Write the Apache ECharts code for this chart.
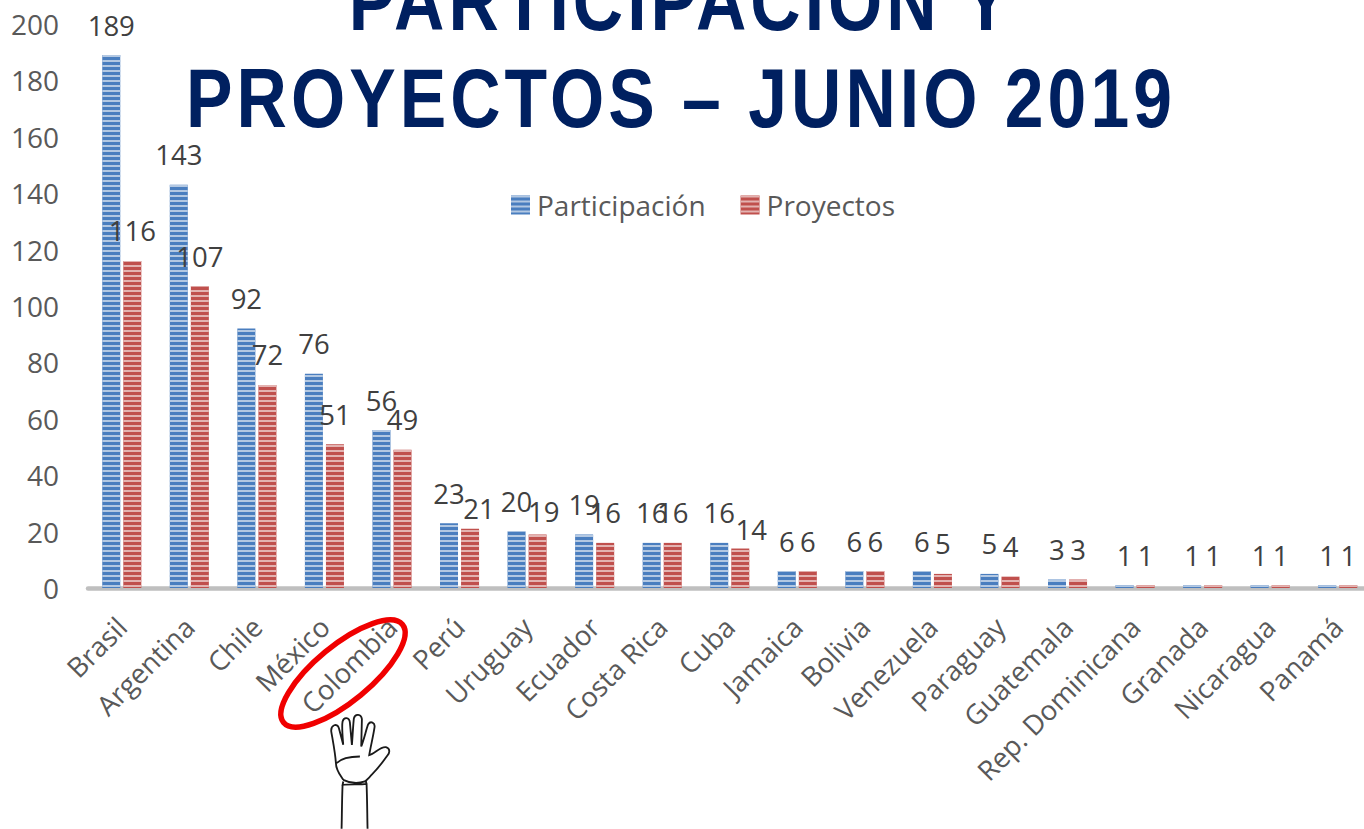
<!DOCTYPE html>
<html><head><meta charset="utf-8">
<style>html,body{margin:0;padding:0;background:#fff;overflow:hidden}#c{width:1364px;height:829px}
#c text[fill="#002060"],#c text[style*="rgb(0, 32, 96)"],#c text[style*="#002060"]{letter-spacing:4.8px}</style>
<script src="https://cdn.jsdelivr.net/npm/echarts@6/dist/echarts.min.js"></script></head>
<body><div id="c"></div><script>
const categories=["Brasil","Argentina","Chile","México","Colombia","Perú","Uruguay","Ecuador","Costa Rica","Cuba","Jamaica","Bolivia","Venezuela","Paraguay","Guatemala","Rep. Dominicana","Granada","Nicaragua","Panamá"];
const participacion=[189,143,92,76,56,23,20,19,16,16,6,6,6,5,3,1,1,1,1];
const proyectos=[116,107,72,51,49,21,19,16,16,14,6,6,5,4,3,1,1,1,1];
const titleText="PARTICIPACIÓN Y\nPROYECTOS – JUNIO 2019";
const proyectosLabelNudges={5:[9,10],6:[6,7],9:[11,11]};
const F='"Open Sans"';
const stripes=c=>({symbol:'rect',color:c,dashArrayX:[1,0],dashArrayY:[2,3],rotation:0,symbolSize:1,maxTileWidth:64,maxTileHeight:64});
const withNudges=(data,n)=>data.map((v,i)=>n[i]?{value:v,label:{offset:n[i]}}:v);
const mk=(name,data,col,lite)=>({name,type:'bar',data,barWidth:18,barGap:'17%',
  itemStyle:{color:col,decal:stripes(lite)},
  label:{show:true,position:'top',distance:16,fontFamily:F,fontSize:27.5,color:'#404040'}});
echarts.graphic.registerShape('handShape',echarts.graphic.extendPath('M250 540 C240 525 228 510 228 490 C226 460 220 430 214 395 C212 375 232 368 237 385 L250 435 C248 410 245 380 248 365 C252 350 268 352 270 368 L276 435 C278 410 280 370 282 355 C286 340 304 342 306 358 L304 440 C312 420 320 385 325 373 C332 362 346 368 344 382 C340 410 332 440 328 466 C345 462 360 440 378 442 C392 446 390 460 382 468 C370 485 350 510 335 525 C328 535 320 540 315 545 C295 552 270 550 250 540 M230 490 C245 475 275 470 300 470 M250 545 L248 555 C270 552 300 555 320 552 L318 545 M248 555 C246 600 246 650 245 687 M320 552 C322 600 322 650 323 687',{}));
const chart=echarts.init(document.getElementById('c'),null,{renderer:'svg'});
chart.setOption({
  animation:false,backgroundColor:'#fff',
  legend:{left:511,top:191,padding:0,icon:'rect',itemWidth:19,itemHeight:19,itemGap:35,textStyle:{fontFamily:F,fontSize:28,color:'#595959',padding:[0,0,0,2]},data:['Participación','Proyectos']},
  grid:{left:88,top:24,width:1283.5,height:564,containLabel:false,outerBoundsMode:'none'},
  xAxis:{type:'category',data:categories,offset:1,axisTick:{show:false},axisLine:{lineStyle:{color:'#bfbfbf',width:4.5}},
    axisLabel:{interval:0,rotate:45,margin:33,fontFamily:F,fontSize:27.5,color:'#595959'}},
  yAxis:{type:'value',min:0,max:200,interval:20,splitLine:{show:false},axisLine:{show:false},axisTick:{show:false},
    axisLabel:{margin:29,fontFamily:F,fontSize:28,color:'#595959',padding:[0,0,2,0]}},
  series:[mk('Participación',participacion,'#4a7ebf','#b3c8e2'),mk('Proyectos',withNudges(proyectos,proyectosLabelNudges),'#c0504d','#e3b3b1')],
  graphic:[
    {type:'text',x:681,y:-47.5,scaleX:0.84,z:9,style:{text:titleText,x:0,y:0,textAlign:'center',fontFamily:'"Liberation Sans"',fontWeight:'bold',fontSize:83,lineHeight:97,fill:'#002060'}},
    {type:'ellipse',shape:{cx:0,cy:0,rx:77,ry:28},x:343,y:673.5,rotation:Math.PI*39.5/180,z:10,style:{fill:'none',stroke:'#f00000',lineWidth:5.5}},
    {type:'handShape',x:260,y:600,scaleX:1/3,scaleY:1/3,z:10,style:{fill:'none',stroke:'#1a1a1a',lineWidth:5.5}}
  ]
});
</script></body></html>
